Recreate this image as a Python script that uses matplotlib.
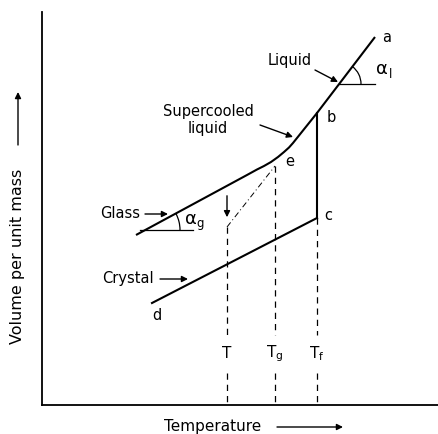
import matplotlib
matplotlib.use("Agg")
import matplotlib.pyplot as plt
from matplotlib.patches import Arc
import numpy as np

# ---- data (temperature, volume) in arbitrary units ----
glass_liquid_T = [94, 205, 215, 222, 229, 236, 242, 247, 251, 275, 333]
glass_liquid_V = [170, 230, 235.5, 239, 243, 248, 253, 257.5, 262, 292, 368]
crystal_T = [110, 275]
crystal_V = [102, 187]
melt_T = [275, 275]
melt_V = [292, 187]
T_pos = 185
Tg_pos = 233
Tf_pos = 275
e_V = 239
c_V = 187
T_glass_V = 212
T_arrow_end_V = 185
T_dash_V = 178
tick_names = ["T", r"$\mathregular{T_g}$", r"$\mathregular{T_f}$"]
point_labels = {"a": (340, 367), "b": (285, 288), "e": (243, 244), "c": (282, 189), "d": (110, 90)}

W, H = 439, 434
fig = plt.figure(figsize=(W / 100, H / 100), dpi=100)
ax = fig.add_axes([42 / W, (H - 405) / H, (W - 42) / W, (405 - 12) / H])
ax.set_xlim(0, W - 42)
ax.set_ylim(0, 405 - 12)
for s in ["top", "right"]:
    ax.spines[s].set_visible(False)
ax.spines["left"].set_linewidth(1.3)
ax.spines["bottom"].set_linewidth(1.3)
ax.set_xticks([])
ax.set_yticks([])

lw = 1.5
fs = 10.5
ax.plot(glass_liquid_T, glass_liquid_V, color="black", lw=lw, solid_capstyle="butt")
ax.plot(crystal_T, crystal_V, color="black", lw=lw)
ax.plot(melt_T, melt_V, color="black", lw=lw)

dash = (0, (5, 4))
gap_top, gap_bot = 70, 32
for x, ytop in [(T_pos, T_dash_V), (Tg_pos, e_V), (Tf_pos, c_V)]:
    ax.plot([x, x], [ytop, gap_top], color="black", lw=0.9, linestyle=dash)
    ax.plot([x, x], [gap_bot, 0], color="black", lw=0.9, linestyle=dash)
for x, name in zip([T_pos, Tg_pos, Tf_pos], tick_names):
    ax.text(x, 51, name, ha="center", va="center", fontsize=fs + 0.5)

# dash-dot extrapolation
ax.plot([T_pos, Tg_pos], [T_dash_V, e_V], color="black", lw=0.7, linestyle=(0, (6, 3, 1, 3)))

# vertical arrow at T
ax.annotate("", xy=(T_pos, T_arrow_end_V), xytext=(T_pos, T_glass_V),
            arrowprops=dict(arrowstyle="-|>", color="black", lw=1.0, mutation_scale=9))

for k, (x, y) in point_labels.items():
    ax.text(x, y, k, ha="left", va="center", fontsize=fs)

# angle constructions
ax.plot([297, 333], [321, 321], color="black", lw=0.9)
ax.add_patch(Arc((297, 321), 44, 44, theta1=0, theta2=52.7, color="black", lw=0.9))
ax.text(333, 336, r"$\mathregular{\alpha}$", fontsize=13, ha="left", va="center")
ax.text(347, 331, "l", fontsize=fs - 2, ha="left", va="center")

ax.plot([98, 151], [175, 175], color="black", lw=0.9)
ax.add_patch(Arc((103, 175), 70, 70, theta1=0, theta2=28, color="black", lw=0.9))
ax.text(142, 186, r"$\mathregular{\alpha}$", fontsize=13, ha="left", va="center")
ax.text(154, 181, "g", fontsize=fs - 2, ha="left", va="center")

arw = dict(arrowstyle="-|>", color="black", lw=1.0, mutation_scale=9, shrinkA=0, shrinkB=0)
ax.text(98, 191, "Glass", ha="right", va="center", fontsize=fs)
ax.annotate("", xy=(126, 191), xytext=(103, 191), arrowprops=arw)
ax.text(112, 126, "Crystal", ha="right", va="center", fontsize=fs)
ax.annotate("", xy=(146, 126), xytext=(118, 126), arrowprops=arw)
ax.text(248, 345, "Liquid", ha="center", va="center", fontsize=fs)
ax.annotate("", xy=(296, 323), xytext=(273, 335), arrowprops=arw)
ax.text(166, 285, "Supercooled\nliquid", ha="center", va="center", fontsize=fs, linespacing=1.15)
ax.annotate("", xy=(251, 268), xytext=(218, 280), arrowprops=arw)

# axis labels with arrows (figure pixel coords)
fig.text(18 / W, 1 - 256 / H, "Volume per unit mass", rotation=90, ha="center", va="center", fontsize=11.5)
fig.text(213 / W, 1 - 427 / H, "Temperature", ha="center", va="center", fontsize=11)
arw2 = dict(arrowstyle="-|>", color="black", lw=1.0, mutation_scale=9, shrinkA=0, shrinkB=0)
ax.annotate("", xy=(18, H - 92), xytext=(18, H - 145), xycoords="figure pixels",
            textcoords="figure pixels", arrowprops=arw2)
ax.annotate("", xy=(343, H - 427), xytext=(277, H - 427), xycoords="figure pixels",
            textcoords="figure pixels", arrowprops=arw2)

fig.savefig("out.png", dpi=100)
